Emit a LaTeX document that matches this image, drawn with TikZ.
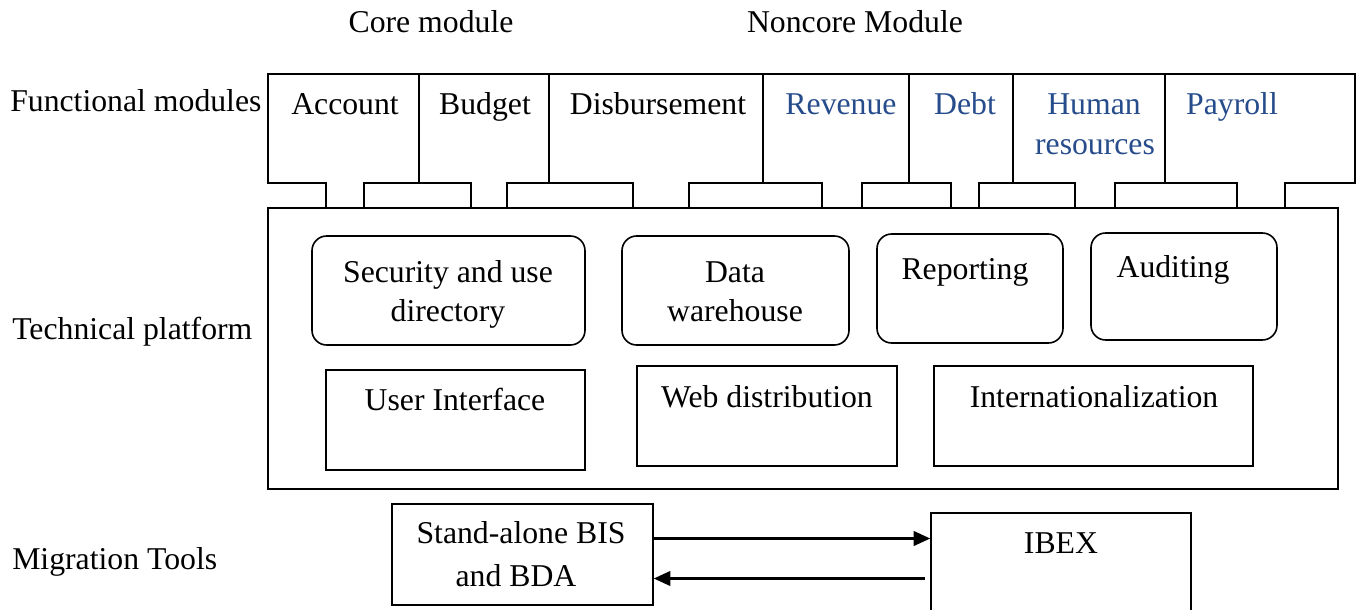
\documentclass[tikz,border=0pt]{standalone}
\usepackage{fontspec}
\setmainfont{Liberation Serif}
\usetikzlibrary{arrows.meta,fit}
\definecolor{noncore}{RGB}{38,76,140}
\begin{document}
\begin{tikzpicture}[
  x=0.75pt, y=-0.75pt,
  txt/.style={font=\fontsize{23.8pt}{29pt}\selectfont, inner sep=0pt, anchor=base},
  nc/.style={txt, text=noncore},
  box/.style={draw, line width=1.2pt, inner sep=0pt},
  rbox/.style={box, rounded corners=11pt},
  outline/.style={line width=1.3pt, line join=miter},
  arr/.style={line width=1.8pt, -{Triangle[length=12.5pt,width=11pt]}}
]
\clip (0,0) rectangle (1361,610);
\fill[white] (0,0) rectangle (1361,610);

% group headings
\node[txt] (core) at (431,33) {Core module};
\node[txt] (noncore) at (855,33) {Noncore Module};

% row labels
\node[txt, anchor=base west] (lfun) at (10,112) {Functional modules};
\node[txt, anchor=base west] (ltech) at (12,339) {Technical platform};
\node[txt, anchor=base west] (lmig) at (12,569) {Migration Tools};

% functional modules bar with its plug-in tabs
\draw[outline] (268,183) -- (268,74) -- (1355,74) -- (1355,183)
  -- (1285,183) -- (1285,208) -- (1237,208) -- (1237,183)
  -- (1115,183) -- (1115,208) -- (1075,208) -- (1075,183)
  -- (979,183) -- (979,208) -- (951,208) -- (951,183)
  -- (862,183) -- (862,208) -- (822,208) -- (822,183)
  -- (689,183) -- (689,208) -- (633,208) -- (633,183)
  -- (507,183) -- (507,208) -- (471,208) -- (471,183)
  -- (364,183) -- (364,208) -- (326,208) -- (326,183) -- cycle;
\foreach \xd in {419,549,763,909,1013,1165}
  \draw[outline] (\xd,74) -- (\xd,183);

\node[txt] (acc) at (345,115) {Account};
\node[txt] (bud) at (485,115) {Budget};
\node[txt] (dis) at (658,115) {Disbursement};
\node[nc] (rev) at (841,115) {Revenue};
\node[nc] (debt) at (965,115) {Debt};
\node[nc] (hr1) at (1094,115) {Human};
\node[nc] (hr2) at (1095,154) {resources};
\node[nc] (pay) at (1232,115) {Payroll};

% technical platform
\node[box, line width=1.7pt, fit={(268,208) (1338,489)}] (platform) {};

\node[rbox, fit={(312,236) (585,345)}] (sec) {};
\node[txt] at (448,282) {Security and use};
\node[txt] at (448,321) {directory};

\node[rbox, fit={(622,236) (849,345)}] (dw) {};
\node[txt] at (735,282) {Data};
\node[txt] at (735,321) {warehouse};

\node[rbox, fit={(877,234) (1063,343)}] (rep) {};
\node[txt] at (965,279) {Reporting};

\node[rbox, fit={(1091,233) (1277,340)}] (aud) {};
\node[txt] at (1173,277) {Auditing};

\node[box, fit={(326,370) (585,470)}] (ui) {};
\node[txt] at (455,410) {User Interface};

\node[box, fit={(637,366) (897,466)}] (web) {};
\node[txt] at (767,407) {Web distribution};

\node[box, fit={(934,366) (1253,466)}] (intl) {};
\node[txt] at (1094,407) {Internationalization};

% migration tools
\node[box, fit={(392,504) (653,605)}] (sa) {};
\node[txt] at (521,543) {Stand-alone BIS};
\node[txt] at (516,586) {and BDA};

\node[box, fit={(931,513) (1191,630)}] (ibex) {};
\node[txt] at (1061,553) {IBEX};

\path ([yshift=12pt]sa.east) coordinate (t1);
\path ([yshift=-18pt]sa.east) coordinate (t2);
\draw[arr] (t1) -- (t1 -| ibex.west);
\draw[arr] ([xshift=-4pt]t2 -| ibex.west) -- (t2);
\end{tikzpicture}
\end{document}
